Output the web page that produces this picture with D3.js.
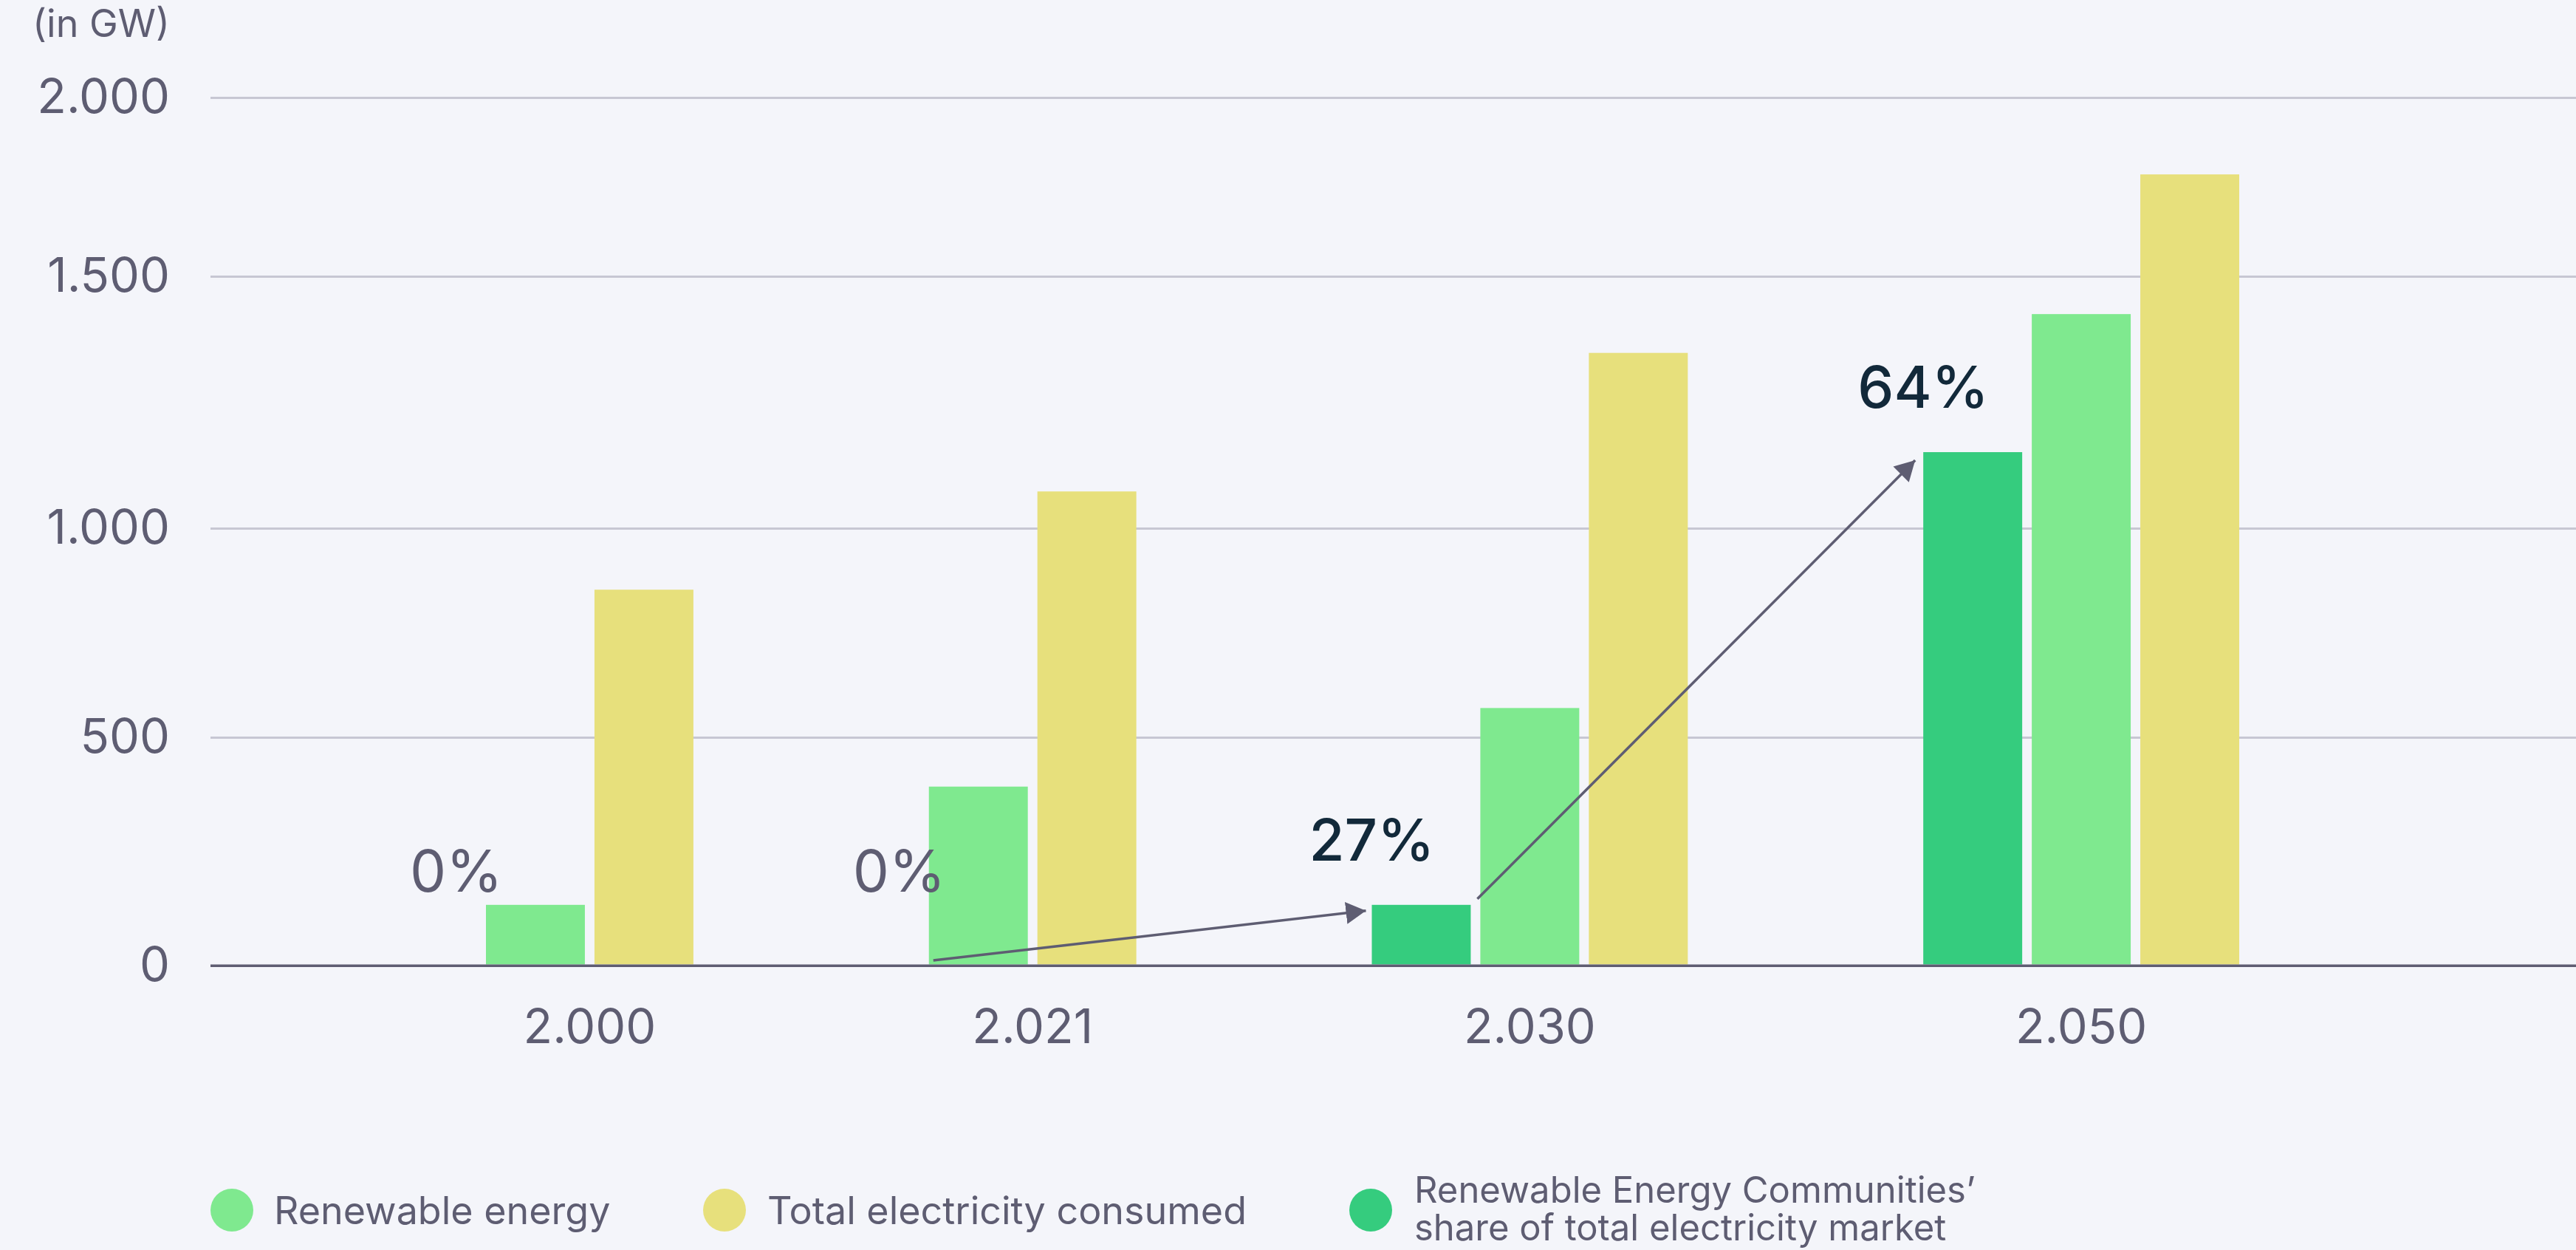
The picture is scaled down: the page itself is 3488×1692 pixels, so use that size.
<!DOCTYPE html>
<html><head><meta charset="utf-8">
<script src="https://cdn.jsdelivr.net/npm/d3@7"></script>
<style>
html,body{margin:0;padding:0;background:#f4f5fa;}
svg{display:block;font-family:Inter,"Noto Sans",sans-serif;}
</style></head><body>
<svg id="chart" width="3488" height="1692"></svg>
<script>
// ---- data ----
const years = [2000, 2021, 2030, 2050];
const recShare = [0, 0, 133, 1151];          // Renewable Energy Communities' share (GW)
const renewable = [133, 392, 570, 1425];      // Renewable energy (GW)
const totalConsumed = [853, 1073, 1348, 1785];// Total electricity consumed (GW)
const shareLabels = ["0%", "0%", "27%", "64%"];
const yTicks = [0, 500, 1000, 1500, 2000];
const yUnit = "(in GW)";
const legendNames = ["Renewable energy", "Total electricity consumed", ["Renewable Energy Communities’", "share of total electricity market"]];

// ---- styles ----
const W = 3488, H = 1692;
const C = {rec: "#35cc7e", ren: "#7fe98f", tot: "#e7e07c", text: "#5e5d72", dark: "#12293a", grid: "#c7c7d3"};
const series = [
  {key: "rec", values: recShare, color: C.rec},
  {key: "ren", values: renewable, color: C.ren},
  {key: "tot", values: totalConsumed, color: C.tot}
];

const svg = d3.select("#chart");
svg.append("rect").attr("width", W).attr("height", H).attr("fill", "#f4f5fa");

const fmt = d3.formatLocale({decimal: ",", thousands: ".", grouping: [3], currency: ["", "€"]}).format(",d");

// y scale: the reference axis is drawn with uneven tick spacing
const y = d3.scaleLinear().domain(yTicks).range([1307, 998, 715, 374, 132]);

// x layout: bars packed per group, constant gap between groups
const INNER = 13 / 134, GAP = 319 / 134;
let cursor = 0;
const bars = [], groups = [];
years.forEach((yr, i) => {
  const present = series.filter(s => s.values[i] > 0);
  const start = cursor;
  present.forEach((s, j) => {
    bars.push({year: yr, i, key: s.key, color: s.color, value: s.values[i], u0: cursor});
    cursor += 1;
    if (j < present.length - 1) cursor += INNER;
  });
  groups.push({year: yr, i, u0: start, u1: cursor});
  cursor += GAP;
});
cursor -= GAP;
const x = d3.scaleLinear().domain([0, cursor]).range([658, 3032]);

// gridlines + y axis
const plotLeft = 285;
const yAxis = svg.append("g").attr("transform", `translate(${plotLeft},0)`)
  .call(d3.axisLeft(y).tickValues(yTicks).tickFormat(fmt).tickSize(-(W - plotLeft)).tickPadding(55));
yAxis.select(".domain").remove();
yAxis.selectAll(".tick line").attr("stroke", d => d === 0 ? C.text : C.grid).attr("stroke-width", 3);
yAxis.selectAll(".tick text").attr("fill", C.text).attr("font-size", 65).attr("font-family", "Inter");

svg.append("text").attr("x", 230).attr("y", 50).attr("text-anchor", "end")
  .attr("fill", C.text).attr("font-size", 52).text(yUnit);

// bars
svg.append("g").selectAll("rect").data(bars).join("rect")
  .attr("x", d => x(d.u0)).attr("width", d => x(d.u0 + 1) - x(d.u0))
  .attr("y", d => y(d.value)).attr("height", d => y(0) - 1.5 - y(d.value))
  .attr("fill", d => d.color);

// redraw baseline on top
svg.append("line").attr("x1", plotLeft).attr("x2", W).attr("y1", y(0)).attr("y2", y(0))
  .attr("stroke", C.text).attr("stroke-width", 3);

// x labels
svg.append("g").selectAll("text").data(groups).join("text")
  .attr("x", d => x((d.u0 + d.u1) / 2)).attr("y", 1412).attr("text-anchor", "middle")
  .attr("fill", C.text).attr("font-size", 65).text(d => fmt(d.year));

// share labels
svg.append("g").selectAll("text").data(groups).join("text")
  .attr("x", d => recShare[d.i] > 0 ? x(d.u0) : x(d.u0 - 0.3))
  .attr("y", d => recShare[d.i] > 0 ? y(recShare[d.i]) - 60 : y(0) - 100)
  .attr("text-anchor", "middle")
  .attr("fill", d => recShare[d.i] > 0 ? C.dark : C.text)
  .attr("font-weight", d => recShare[d.i] > 0 ? 500 : 400)
  .attr("font-size", 78).text(d => shareLabels[d.i]);

// arrows
svg.append("defs").append("marker").attr("id", "arr").attr("markerUnits", "userSpaceOnUse")
  .attr("markerWidth", 30).attr("markerHeight", 30).attr("refX", 27).attr("refY", 15)
  .attr("orient", "auto")
  .append("path").attr("d", "M0,0L27,15L0,30Z").attr("fill", C.text);

const findBar = (yr, key) => bars.find(b => b.year === yr && b.key === key);
const b21 = findBar(2021, "ren"), r30 = findBar(2030, "rec"), n30 = findBar(2030, "ren"), r50 = findBar(2050, "rec");
const arrows = [
  [[x(b21.u0) + 6, y(0) - 7], [x(r30.u0) - 8, y(r30.value) + 8]],
  [[x(n30.u0) - 4, y(r30.value) - 8], [x(r50.u0) - 11, y(r50.value) + 11]]
];
svg.append("g").selectAll("line").data(arrows).join("line")
  .attr("x1", d => d[0][0]).attr("y1", d => d[0][1]).attr("x2", d => d[1][0]).attr("y2", d => d[1][1])
  .attr("stroke", C.text).attr("stroke-width", 3.5).attr("marker-end", "url(#arr)");

// legend
const legend = [
  {color: C.ren, cx: 314, tx: 371, lines: [legendNames[0]]},
  {color: C.tot, cx: 981, tx: 1039, lines: [legendNames[1]]},
  {color: C.rec, cx: 1856, tx: 1915, lines: legendNames[2]}
];
const lg = svg.append("g").selectAll("g").data(legend).join("g");
lg.append("circle").attr("cx", d => d.cx).attr("cy", 1638).attr("r", 29).attr("fill", d => d.color);
lg.each(function(d) {
  const g = d3.select(this);
  const multi = d.lines.length > 1;
  d.lines.forEach((t, k) => {
    g.append("text").attr("x", d.tx).attr("y", multi ? 1628 + k * 51 : 1657)
      .attr("fill", C.text).attr("font-size", multi ? 49 : 52).text(t);
  });
});
</script>
</body></html>
